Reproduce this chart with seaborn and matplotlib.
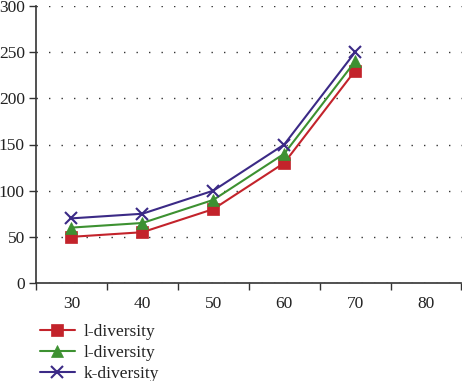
import matplotlib
matplotlib.use("Agg")
import matplotlib.pyplot as plt
import seaborn as sns
import pandas as pd
import numpy as np

categories = ["30", "40", "50", "60", "70", "80"]
x_vals = ["30", "40", "50", "60", "70"]
l_div_1 = [50, 55, 80, 130, 230]
l_div_2 = [60, 65, 90, 140, 240]
k_div = [70, 75, 100, 150, 250]
labels = ["l-diversity", "l-diversity", "k-diversity"]
colors = ["#c3232b", "#3d9131", "#3b2a86"]
markers = ["s", "^", "x"]

sns.set_style("white")
plt.rcParams["font.family"] = ["Liberation Serif", "DejaVu Serif"]

fig = plt.figure(figsize=(4.62, 3.81), dpi=100)
ax = fig.add_axes([36/462, 1-283/381, 1-36/462 - 0.5/462, (283-6)/381])

pos = {c: i for i, c in enumerate(categories)}
for vals, lab, col, mk in zip([l_div_1, l_div_2, k_div], labels, colors, markers):
    df = pd.DataFrame({"x": [pos[v] for v in x_vals], "y": vals})
    sns.lineplot(data=df, x="x", y="y", ax=ax, color=col, marker=mk, label=lab,
                 markersize=8.5 if mk != "x" else 9, markeredgecolor=col,
                 markeredgewidth=1.5 if mk == "x" else 0.5, linewidth=1.5)

ax.set_xlim(-0.5, len(categories) - 0.5)
ax.set_ylim(0, 300)
ax.set_xticks(range(len(categories)))
ax.set_xticklabels(categories)
ax.set_xticks(np.arange(-0.5, len(categories), 1.0), minor=True)
ax.tick_params(axis="x", which="major", length=0, labelsize=12.5, pad=9, colors="#222222")
ax.tick_params(axis="x", which="minor", length=5, width=1, direction="out", color="#333333", bottom=True)
ax.set_yticks([0, 50, 100, 150, 200, 250, 300])
ax.tick_params(axis="y", length=5, width=1, direction="out", labelsize=12.5, color="#333333", left=True, pad=3,
               labelcolor="#222222")
ax.set_xlabel("")
ax.set_ylabel("")
for s in ["top", "right"]:
    ax.spines[s].set_visible(False)
for s in ["left", "bottom"]:
    ax.spines[s].set_color("#333333")
    ax.spines[s].set_linewidth(1.2)
ax.yaxis.grid(True, linestyle=(0, (1, 8)), color="#333333", linewidth=1)
ax.set_axisbelow(True)

handles, labs = ax.get_legend_handles_labels()
ax.legend_.remove()
fig.legend(handles, labs, loc="upper left", bbox_to_anchor=(33/462, 1-317/381),
           frameon=False, fontsize=12.5, handlelength=2.0, labelspacing=0.29,
           borderaxespad=0, handletextpad=0.5, labelcolor="#222222")

fig.savefig("out.png", dpi=100)
